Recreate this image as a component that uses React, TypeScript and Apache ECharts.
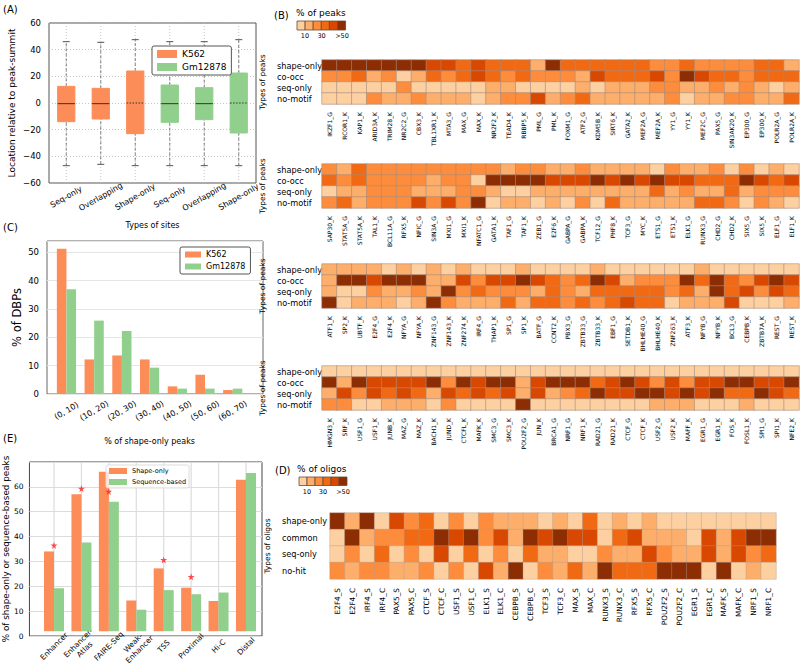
import React, { useEffect, useRef } from 'react';
import * as echarts from 'echarts';

// ---------- Panel A: box plot ----------
const boxCats = ['Seq-only', 'Overlapping', 'Shape-only', 'Seq-only', 'Overlapping', 'Shape-only'];
// [index, min, q1, median, q3, max, dottedMedian]
const boxK562 = [
  [0, -47, -14, -0.5, 12.5, 46, 0],
  [1, -46, -12, -0.5, 11, 45.5, 0],
  [2, -47, -23, 0, 24, 47.5, 1],
];
const boxGm = [
  [3, -47, -14.5, -0.5, 13.5, 46, 0],
  [4, -47, -12.5, -0.5, 11.5, 46, 0],
  [5, -47, -22.5, 0, 22.5, 47.5, 1],
];

// ---------- Panel C ----------
const cCats = ['(0, 10)', '(10, 20)', '(20, 30)', '(30, 40)', '(40, 50)', '(50, 60)', '(60, 70)'];
const cK562 = [51.3, 12.2, 13.6, 12.2, 2.7, 6.8, 1.4];
const cGm = [37.0, 25.9, 22.2, 9.3, 1.9, 1.9, 1.9];

// ---------- Panel E ----------
const eCats = ['Enhancer', 'Enhancer-\nAtlas', 'FAIRE-Seq', 'Weak-\nEnhancer', 'TSS', 'Proximal', 'Hi-C', 'Distal'];
const eShape = [33, 56.7, 66, 12.7, 26, 18, 12.5, 62.7];
const eSeq = [17.8, 36.7, 53.6, 8.9, 17, 15.3, 16, 65.5];
const eStars = [[0, 35.5], [1, 59], [2, 57.8], [4, 29.5], [5, 22.5]];

// ---------- Panel B heatmaps ----------
const bRows = ['shape-only', 'co-occ', 'seq-only', 'no-motif'];
const bCols1 = ['IKZF1_G', 'RCOR1_K', 'KAP1_K', 'ARID3A_K', 'TRIM28_K', 'NR2C2_G', 'CBX3_K', 'TBL1XR1_K', 'MTA3_G', 'MAX_G', 'MAX_K', 'NR2F2_K', 'TEAD4_K', 'RBBP5_K', 'PML_G', 'PML_K', 'FOXM1_G', 'ATF2_G', 'KDM5B_K', 'SIRT6_K', 'GATA2_K', 'MEF2A_G', 'MEF2A_K', 'YY1_G', 'YY1_K', 'MEF2C_G', 'PAX5_G', 'SIN3AK20_K', 'EP300_G', 'EP300_K', 'POLR2A_G', 'POLR2A_K'];
const bVals1 = [
  [60, 60, 60, 60, 60, 60, 60, 45, 45, 35, 45, 35, 35, 35, 15, 60, 35, 35, 35, 35, 35, 35, 25, 25, 35, 25, 25, 25, 25, 35, 35, 15],
  [25, 25, 35, 15, 25, 5, 15, 35, 25, 35, 45, 35, 25, 35, 25, 25, 25, 15, 45, 35, 35, 35, 45, 25, 60, 45, 35, 35, 25, 35, 35, 35],
  [5, 5, 5, 5, 5, 25, 5, 5, 5, 5, 5, 15, 15, 5, 5, 5, 5, 15, 5, 15, 15, 15, 25, 25, 15, 15, 25, 15, 25, 15, 5, 15],
  [5, 5, 5, 25, 15, 15, 25, 15, 15, 15, 5, 15, 25, 25, 45, 15, 25, 35, 15, 15, 15, 15, 15, 25, 5, 15, 15, 25, 25, 15, 15, 35],
];
const bCols2 = ['SAP30_K', 'STAT5A_G', 'STAT5A_K', 'TAL1_K', 'BCL11A_G', 'RFX5_K', 'NFIC_G', 'SIN3A_G', 'MXI1_G', 'MXI1_K', 'NFATC1_G', 'GATA1_K', 'TAF1_G', 'TAF1_K', 'ZEB1_G', 'E2F6_K', 'GABPA_G', 'GABPA_K', 'TCF12_G', 'PHF8_K', 'TCF3_G', 'MYC_K', 'ETS1_G', 'ETS1_K', 'ELK1_G', 'RUNX3_G', 'CHD2_G', 'CHD2_K', 'SIX5_G', 'SIX5_K', 'ELF1_G', 'ELF1_K'];
const bVals2 = [
  [25, 15, 35, 25, 25, 25, 25, 25, 25, 25, 25, 25, 15, 25, 25, 15, 15, 25, 15, 15, 15, 15, 5, 25, 15, 15, 25, 5, 25, 5, 15, 5],
  [35, 25, 35, 25, 25, 25, 25, 15, 25, 25, 5, 60, 60, 60, 60, 45, 45, 45, 60, 45, 60, 45, 60, 45, 45, 35, 35, 35, 60, 45, 35, 45],
  [5, 15, 15, 25, 25, 25, 15, 15, 15, 25, 25, 15, 5, 5, 15, 15, 15, 15, 15, 15, 15, 15, 35, 15, 25, 15, 15, 35, 15, 25, 25, 25],
  [25, 35, 15, 25, 25, 25, 45, 25, 45, 25, 60, 5, 15, 15, 5, 15, 5, 25, 5, 35, 15, 15, 15, 15, 15, 35, 35, 25, 5, 25, 15, 5],
];
const bCols3 = ['ATF1_K', 'SP2_K', 'UBTF_K', 'E2F4_G', 'E2F4_K', 'NFYA_G', 'NFYA_K', 'ZNF143_G', 'ZNF143_K', 'ZNF274_K', 'IRF4_G', 'THAP1_K', 'SP1_G', 'SP1_K', 'BATF_G', 'CCNT2_K', 'PBX3_G', 'ZBTB33_G', 'ZBTB33_K', 'EBF1_G', 'SETDB1_K', 'BHLHE40_G', 'BHLHE40_K', 'ZNF263_K', 'ATF3_K', 'NFYB_G', 'NFYB_K', 'BCL3_G', 'CEBPB_K', 'ZBTB7A_K', 'REST_G', 'REST_K'];
const bVals3 = [
  [15, 15, 15, 15, 5, 15, 5, 15, 5, 15, 5, 5, 5, 15, 5, 5, 5, 5, 15, 5, 5, 5, 5, 5, 5, 15, 5, 5, 5, 5, 5, 5],
  [15, 60, 60, 45, 60, 60, 60, 15, 15, 45, 25, 45, 45, 60, 45, 35, 25, 35, 60, 45, 15, 25, 25, 25, 60, 35, 60, 35, 25, 45, 60, 45],
  [15, 5, 5, 25, 15, 15, 25, 15, 60, 25, 35, 25, 25, 25, 15, 35, 25, 15, 35, 35, 35, 35, 35, 25, 35, 15, 60, 35, 45, 25, 45, 35],
  [60, 5, 15, 15, 15, 5, 15, 60, 25, 15, 15, 15, 35, 15, 35, 35, 25, 35, 25, 35, 45, 35, 35, 5, 15, 15, 15, 45, 5, 5, 5, 15],
];
const bCols4 = ['HMGN3_K', 'SRF_K', 'USF1_G', 'USF1_K', 'JUNB_K', 'MAZ_G', 'MAZ_K', 'BACH1_K', 'JUND_K', 'CTCFL_K', 'MAFK_K', 'SMC3_G', 'SMC3_K', 'POU2F2_G', 'JUN_K', 'BRCA1_G', 'NRF1_G', 'NRF1_K', 'RAD21_G', 'RAD21_K', 'CTCF_G', 'CTCF_K', 'USF2_G', 'USF2_K', 'MAFF_K', 'EGR1_G', 'EGR1_K', 'FOS_K', 'FOSL1_K', 'SPI1_G', 'SPI1_K', 'NFE2_K'];
const bVals4 = [
  [5, 5, 5, 5, 5, 5, 5, 5, 5, 5, 5, 5, 5, 5, 5, 5, 5, 5, 5, 5, 5, 5, 5, 5, 5, 5, 5, 5, 5, 5, 5, 5],
  [60, 15, 60, 45, 45, 45, 45, 60, 25, 60, 45, 60, 60, 15, 45, 60, 60, 60, 35, 45, 60, 45, 25, 45, 25, 45, 45, 60, 60, 45, 45, 60],
  [15, 45, 25, 45, 35, 45, 35, 15, 45, 35, 45, 35, 45, 15, 45, 15, 25, 35, 60, 45, 45, 60, 60, 45, 60, 45, 60, 35, 35, 60, 45, 35],
  [25, 25, 5, 5, 15, 15, 15, 5, 25, 5, 5, 5, 5, 60, 5, 5, 5, 5, 5, 5, 5, 5, 15, 15, 15, 5, 5, 5, 15, 5, 5, 5],
];

// ---------- Panel D heatmap ----------
const dRows = ['shape-only', 'common', 'seq-only', 'no-hit'];
const dCols = ['E2F4_S', 'E2F4_C', 'IRF4_S', 'IRF4_C', 'PAX5_S', 'PAX5_C', 'CTCF_S', 'CTCF_C', 'USF1_S', 'USF1_C', 'ELK1_S', 'ELK1_C', 'CEBPB_S', 'CEBPB_C', 'TCF3_S', 'TCF3_C', 'MAX_S', 'MAX_C', 'RUNX3_S', 'RUNX3_C', 'RFX5_S', 'RFX5_C', 'POU2F2_S', 'POU2F2_C', 'EGR1_S', 'EGR1_C', 'MAFK_S', 'MAFK_C', 'NRF1_S', 'NRF1_C'];
const dVals = [
  [60, 15, 60, 5, 45, 25, 35, 5, 25, 5, 25, 15, 15, 15, 5, 15, 5, 35, 5, 15, 5, 15, 5, 5, 5, 5, 5, 5, 5, 5],
  [5, 60, 15, 25, 25, 35, 35, 60, 45, 60, 25, 45, 15, 60, 45, 60, 45, 45, 5, 35, 45, 15, 15, 15, 5, 45, 15, 45, 60, 60],
  [5, 25, 5, 35, 5, 25, 5, 45, 5, 35, 5, 25, 5, 35, 15, 15, 5, 5, 25, 15, 15, 45, 25, 15, 15, 45, 15, 45, 25, 35],
  [25, 15, 25, 25, 15, 15, 25, 5, 25, 5, 45, 15, 60, 5, 25, 15, 35, 15, 60, 35, 35, 35, 60, 60, 60, 5, 60, 5, 15, 5],
];

const legendTicks = ['10', '30', '>50'];

const ORANGE = '#fc8d59';
const GREEN = '#91d08c';
const HEAT = ['#fdd0a2', '#fdae6b', '#fd8d3c', '#f16913', '#d94801', '#8c2d04'];
const FONT = 'DejaVu Sans';

function toHeat(vals: number[][]) {
  const out: number[][] = [];
  vals.forEach((row, r) => row.forEach((v, c) => out.push([c, r, v])));
  return out;
}

const boxRender = (color: string) => (params: any, api: any) => {
  const x = api.value(0);
  const lo = api.coord([x, api.value(1)]);
  const q1 = api.coord([x, api.value(2)]);
  const md = api.coord([x, api.value(3)]);
  const q3 = api.coord([x, api.value(4)]);
  const hi = api.coord([x, api.value(5)]);
  const cx = lo[0];
  const bw = api.size([1, 0])[0] * 0.5;
  const capW = 7;
  const top = api.coord([x, 60])[1];
  const bot = api.coord([x, -60])[1];
  const dotted = api.value(6) === 1;
  return {
    type: 'group',
    children: [
      { type: 'line', shape: { x1: cx, y1: top, x2: cx, y2: bot }, style: { stroke: '#b5b5b5', lineWidth: 0.8, lineDash: [1, 2] } },
      { type: 'line', shape: { x1: cx, y1: lo[1], x2: cx, y2: q1[1] }, style: { stroke: '#666', lineWidth: 0.8, lineDash: [3, 2] } },
      { type: 'line', shape: { x1: cx, y1: q3[1], x2: cx, y2: hi[1] }, style: { stroke: '#666', lineWidth: 0.8, lineDash: [3, 2] } },
      { type: 'line', shape: { x1: cx - capW / 2, y1: lo[1], x2: cx + capW / 2, y2: lo[1] }, style: { stroke: '#555', lineWidth: 1 } },
      { type: 'line', shape: { x1: cx - capW / 2, y1: hi[1], x2: cx + capW / 2, y2: hi[1] }, style: { stroke: '#555', lineWidth: 1 } },
      { type: 'rect', shape: { x: cx - bw / 2, y: q3[1], width: bw, height: q1[1] - q3[1] }, style: { fill: color, stroke: color, lineWidth: 1 } },
      { type: 'line', shape: { x1: cx - bw / 2, y1: md[1], x2: cx + bw / 2, y2: md[1] }, style: { stroke: '#333', lineWidth: 1, lineDash: dotted ? [1.5, 1.5] : null } },
    ],
  };
};

const minusFmt = (v: number) => String(v).replace('-', '\u2212');

export default function App() {
  const ref = useRef<HTMLDivElement>(null);
  useEffect(() => {
    if (!ref.current) return;
    const chart = echarts.init(ref.current, null, { renderer: 'svg' });

    const bTops = [60, 164, 264, 366];
    const bCols = [bCols1, bCols2, bCols3, bCols4];
    const bVals = [bVals1, bVals2, bVals3, bVals4];

    const grids: any[] = [
      { left: 49, top: 23, width: 207, height: 160, show: true, borderColor: '#555', borderWidth: 1, backgroundColor: 'transparent' }, // 0 A
      { left: 47, top: 241, width: 216, height: 153, show: true, borderColor: '#666', borderWidth: 1, backgroundColor: 'transparent' }, // 1 C frame
      { left: 52.6, top: 241, width: 194, height: 153 }, // 2 C data
      { left: 28, top: 462, width: 234, height: 174, show: true, borderColor: '#444', borderWidth: 1, backgroundColor: 'transparent' }, // 3 E frame
      { left: 40.3, top: 462, width: 219.4, height: 174 }, // 4 E data
    ];
    bTops.forEach((t) => grids.push({ left: 322, top: t, width: 477, height: 44 }));
    grids.push({ left: 330, top: 513, width: 446, height: 66 }); // 9 D

    const lblBase = { color: '#000', fontFamily: FONT };
    const xAxes: any[] = [
      {
        type: 'category', gridIndex: 0, data: boxCats,
        axisLine: { show: false }, axisTick: { show: false }, splitLine: { show: false },
        axisLabel: { ...lblBase, fontSize: 8, rotate: 30, align: 'center', verticalAlign: 'middle', margin: 14, interval: 0 },
        name: 'Types of sites', nameLocation: 'middle', nameGap: 38, nameTextStyle: { ...lblBase, fontSize: 8 },
      },
      { type: 'value', gridIndex: 1, min: 0, max: 1, show: false },
      {
        type: 'category', gridIndex: 2, data: cCats,
        axisLine: { show: false }, axisTick: { show: false }, splitLine: { show: false },
        axisLabel: { ...lblBase, fontSize: 8, rotate: 30, align: 'center', verticalAlign: 'middle', margin: 17, interval: 0 },
        name: '% of shape-only peaks', nameLocation: 'middle', nameGap: 43, nameTextStyle: { ...lblBase, fontSize: 8 },
      },
      { type: 'value', gridIndex: 3, min: 0, max: 1, show: false },
      {
        type: 'category', gridIndex: 4, data: eCats,
        axisLine: { show: false }, axisTick: { show: false }, splitLine: { show: false },
        axisLabel: { ...lblBase, fontSize: 7.5, rotate: 45, align: 'center', verticalAlign: 'middle', margin: 15, interval: 0, lineHeight: 9 },
      },
    ];
    const yAxes: any[] = [
      {
        type: 'value', gridIndex: 0, min: -60, max: 60, interval: 20,
        axisLine: { show: false }, axisTick: { show: false },
        splitLine: { show: true, lineStyle: { color: '#b5b5b5', type: [1, 2], width: 0.8 } },
        axisLabel: { ...lblBase, fontSize: 8.5, formatter: minusFmt },
        name: 'Location relative to peak-summit', nameLocation: 'middle', nameGap: 33, nameRotate: 90,
        nameTextStyle: { ...lblBase, fontSize: 9 },
      },
      {
        type: 'value', gridIndex: 1, min: 0, max: 54, interval: 10,
        axisLine: { show: false }, axisTick: { show: false },
        splitLine: { show: true, lineStyle: { color: '#e6e6e6', width: 1 } },
        axisLabel: { ...lblBase, fontSize: 8.5, showMaxLabel: false },
        name: '% of DBPs', nameLocation: 'middle', nameGap: 24, nameRotate: 90,
        nameTextStyle: { ...lblBase, fontSize: 11.5 },
      },
      { type: 'value', gridIndex: 2, min: 0, max: 54, show: false },
      {
        type: 'value', gridIndex: 3, min: 0, max: 70, interval: 10,
        axisLine: { show: false }, axisTick: { show: false },
        splitLine: { show: true, lineStyle: { color: '#dcdcdc', width: 1.2 } },
        axisLabel: { ...lblBase, fontSize: 7.5, showMaxLabel: false, margin: 6 },
        name: '% of shape-only or sequence-based peaks', nameLocation: 'middle', nameGap: 17, nameRotate: 90,
        nameTextStyle: { ...lblBase, fontSize: 8.8 },
      },
      { type: 'value', gridIndex: 4, min: 0, max: 70, show: false },
    ];

    const heatX = (gi: number, cols: string[], fs: number, margin: number) => ({
      type: 'category', gridIndex: gi, data: cols,
      axisLine: { show: false }, axisTick: { show: false }, splitLine: { show: false }, splitArea: { show: false },
      axisLabel: { ...lblBase, fontSize: fs, rotate: 90, margin, interval: 0 },
    });
    const heatY = (gi: number, rows: string[], margin: number, title: string, gap: number) => ({
      type: 'category', gridIndex: gi, data: rows, inverse: true,
      axisLine: { show: false }, axisTick: { show: false }, splitLine: { show: false }, splitArea: { show: false },
      axisLabel: { ...lblBase, fontSize: 8.2, align: 'left', margin, interval: 0 },
      name: title, nameLocation: 'middle', nameGap: gap, nameRotate: 90,
      nameTextStyle: { ...lblBase, fontSize: 7.5 },
    });

    const series: any[] = [
      {
        name: 'K562', type: 'custom', xAxisIndex: 0, yAxisIndex: 0, data: boxK562,
        renderItem: boxRender(ORANGE), itemStyle: { color: ORANGE }, encode: { x: 0, y: [1, 2, 3, 4, 5] },
      },
      {
        name: 'Gm12878', type: 'custom', xAxisIndex: 0, yAxisIndex: 0, data: boxGm,
        renderItem: boxRender(GREEN), itemStyle: { color: GREEN }, encode: { x: 0, y: [1, 2, 3, 4, 5] },
      },
      { name: 'K562', type: 'bar', xAxisIndex: 2, yAxisIndex: 2, data: cK562, barWidth: 9.6, barGap: '0%', itemStyle: { color: ORANGE } },
      { name: 'Gm12878', type: 'bar', xAxisIndex: 2, yAxisIndex: 2, data: cGm, barWidth: 9.6, barGap: '0%', itemStyle: { color: GREEN } },
      {
        type: 'custom', xAxisIndex: 4, yAxisIndex: 4, z: 1, data: eCats.map((_, i) => [i]),
        renderItem: (p: any, api: any) => {
          const a = api.coord([api.value(0), 0]);
          const b = api.coord([api.value(0), 70]);
          return { type: 'line', shape: { x1: a[0], y1: a[1], x2: b[0], y2: b[1] }, style: { stroke: '#dcdcdc', lineWidth: 1.2 } };
        },
        silent: true,
      },
      { name: 'Shape-only', type: 'bar', xAxisIndex: 4, yAxisIndex: 4, data: eShape, barWidth: 10, barGap: '0%', itemStyle: { color: ORANGE }, z: 2 },
      { name: 'Sequence-based', type: 'bar', xAxisIndex: 4, yAxisIndex: 4, data: eSeq, barWidth: 10, barGap: '0%', itemStyle: { color: GREEN }, z: 2 },
      {
        type: 'scatter', xAxisIndex: 4, yAxisIndex: 4, data: eStars, z: 5,
        symbol: 'path://M50,0 L61,35 L98,35 L68,57 L79,91 L50,70 L21,91 L32,57 L2,35 L39,35 Z',
        symbolSize: 7, itemStyle: { color: '#ff1f1f' },
      },
    ];

    const heatSeriesIdx: number[] = [];
    bTops.forEach((_, k) => {
      const gi = 5 + k;
      xAxes.push(heatX(gi, bCols[k], 6, 8));
      yAxes.push(heatY(gi, bRows, 45, 'Types of peaks', 51));
      heatSeriesIdx.push(series.length);
      series.push({
        type: 'heatmap', xAxisIndex: gi, yAxisIndex: gi, data: toHeat(bVals[k]),
        itemStyle: { borderColor: '#a88c7a', borderWidth: 0.6 }, emphasis: { disabled: true },
      });
    });
    xAxes.push(heatX(9, dCols, 7.3, 9));
    yAxes.push(heatY(9, dRows, 48, 'Types of oligos', 56));
    heatSeriesIdx.push(series.length);
    series.push({
      type: 'heatmap', xAxisIndex: 9, yAxisIndex: 9, data: toHeat(dVals),
      itemStyle: { borderColor: '#b09a8a', borderWidth: 0.4 }, emphasis: { disabled: true },
    });

    const txt = (text: string, x: number, y: number, fs: number, align = 'left') => ({
      type: 'text', x, y, style: { text, fontSize: fs, fontFamily: FONT, fill: '#000', textAlign: align, textVerticalAlign: 'middle' },
    });
    const legendBoxes = (x0: number, y0: number, w: number, h: number) =>
      HEAT.map((c, i) => ({ type: 'rect', shape: { x: x0 + w * i, y: y0, width: w, height: h }, style: { fill: c, stroke: '#6b4a30', lineWidth: 0.8 } }));

    const graphic: any[] = [
      txt('(A)', 3, 9, 10),
      txt('(C)', 3, 227, 10),
      txt('(E)', 3, 438, 10),
      txt('(B)', 274, 15, 10),
      txt('% of peaks', 296, 13, 9),
      ...legendBoxes(297, 21, 8.1, 9),
      txt(legendTicks[0], 305, 36, 6.5, 'center'),
      txt(legendTicks[1], 321.6, 36, 6.5, 'center'),
      txt(legendTicks[2], 342, 36, 6.5, 'center'),
      txt('(D)', 275, 470, 10),
      txt('% of oligos', 297, 469, 9),
      ...legendBoxes(299, 477, 8, 8.5),
      txt(legendTicks[0], 307, 491.5, 6.5, 'center'),
      txt(legendTicks[1], 323, 491.5, 6.5, 'center'),
      txt(legendTicks[2], 343, 491.5, 6.5, 'center'),
    ];

    const option: any = {
      animation: false,
      backgroundColor: '#fff',
      textStyle: { fontFamily: FONT },
      grid: grids,
      xAxis: xAxes,
      yAxis: yAxes,
      series,
      visualMap: {
        type: 'piecewise', show: false, dimension: 2, seriesIndex: heatSeriesIdx,
        pieces: [
          { lt: 10, color: HEAT[0] },
          { gte: 10, lt: 20, color: HEAT[1] },
          { gte: 20, lt: 30, color: HEAT[2] },
          { gte: 30, lt: 40, color: HEAT[3] },
          { gte: 40, lt: 50, color: HEAT[4] },
          { gte: 50, color: HEAT[5] },
        ],
      },
      legend: [
        {
          data: ['K562', 'Gm12878'], left: 152, top: 46, orient: 'vertical', icon: 'rect',
          itemWidth: 20, itemHeight: 8, itemGap: 3, padding: [3, 5], selectedMode: false,
          borderColor: '#555', borderWidth: 1, borderRadius: 2, backgroundColor: '#fff',
          textStyle: { fontSize: 9, fontFamily: FONT, color: '#000', lineHeight: 10 },
        },
        {
          data: ['K562', 'Gm12878'], left: 180, top: 247, orient: 'vertical', icon: 'rect',
          itemWidth: 16, itemHeight: 6, itemGap: 3, padding: [3, 5], selectedMode: false,
          borderColor: '#555', borderWidth: 1, borderRadius: 2, backgroundColor: '#fff',
          textStyle: { fontSize: 8, fontFamily: FONT, color: '#000', lineHeight: 9 },
        },
        {
          data: ['Shape-only', 'Sequence-based'], left: 106, top: 465, orient: 'vertical', icon: 'rect',
          itemWidth: 18, itemHeight: 6, itemGap: 3, padding: [2, 3], selectedMode: false,
          borderColor: '#ddd', borderWidth: 1, borderRadius: 2, backgroundColor: 'rgba(255,255,255,0.75)',
          textStyle: { fontSize: 6.5, fontFamily: FONT, color: '#000', lineHeight: 8 },
        },
      ],
      graphic,
    };
    chart.setOption(option);
    return () => chart.dispose();
  }, []);
  return (
    <div
      ref={ref}
      style={{ position: 'fixed', left: 0, top: 0, width: 800, height: 668, background: '#fff' }}
    />
  );
}
